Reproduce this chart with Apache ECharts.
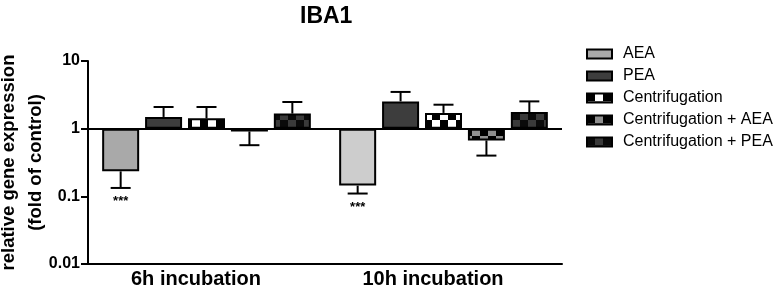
<!DOCTYPE html>
<html>
<head>
<meta charset="utf-8">
<script src="https://cdn.jsdelivr.net/npm/echarts@6/dist/echarts.min.js"></script>
<style>
  html, body { margin: 0; padding: 0; background: #fff; }
  #main { width: 778px; height: 292px; }
</style>
</head>
<body>
<div id="main"></div>
<script>
// values (fold of control, log scale)
var categories = ['6h incubation', '10h incubation'];
var seriesNames = ['AEA', 'PEA', 'Centrifugation', 'Centrifugation + AEA', 'Centrifugation + PEA'];
var aea = [0.234, 0.144];
var aeaErr = [0.133, 0.11];
var pea = [1.49, 2.53];
var peaErr = [2.09, 3.49];
var centr = [1.42, 1.71];
var centrErr = [2.09, 2.26];
var centrAea = [0.91, 0.67];
var centrAeaErr = [0.57, 0.40];
var centrPea = [1.67, 1.76];
var centrPeaErr = [2.48, 2.53];
var aeaStars = ['***', '***'];
var yTicks = [0.01, 0.1, 1, 10];

var FONT = '"Liberation Sans", Arial, sans-serif';
var BAR_W = 37;
var GAP = 0.16;

function checker(a, b, size) {
  var c = document.createElement('canvas');
  c.width = size * 2;
  c.height = size * 2;
  var ctx = c.getContext('2d');
  ctx.fillStyle = a;
  ctx.fillRect(0, 0, size * 2, size * 2);
  ctx.fillStyle = b;
  ctx.fillRect(size, 0, size, size);
  ctx.fillRect(0, size, size, size);
  return { image: c, repeat: 'repeat' };
}

var means = [aea, pea, centr, centrAea, centrPea];
var ends = [aeaErr, peaErr, centrErr, centrAeaErr, centrPeaErr];
var fills = [
  '#a9a9a9',
  '#3d3d3d',
  checker('#000', '#fff', 8),
  checker('#000', '#8f8f8f', 8),
  checker('#0a0a0a', '#3a3a3a', 8)
];

var barSeries = seriesNames.map(function (name, i) {
  var s = {
    name: name,
    type: 'bar',
    barWidth: BAR_W,
    barGap: (GAP * 100) + '%',
    itemStyle: { color: fills[i], borderColor: '#000', borderWidth: 2 },
    data: means[i].slice()
  };
  if (i === 0) {
    // 10h AEA bar is a lighter grey
    s.data = [aea[0], { value: aea[1], itemStyle: { color: '#cdcdcd' } }];
    s.markLine = {
      silent: true,
      symbol: 'none',
      label: { show: false },
      lineStyle: { color: '#000', width: 2, type: 'solid' },
      data: [{ yAxis: 1 }]
    };
  }
  return s;
});

var errData = [];
var errStars = [];
for (var s = 0; s < means.length; s++) {
  for (var c = 0; c < categories.length; c++) {
    errData.push([c, s, means[s][c], ends[s][c]]);
    errStars.push(s === 0 ? aeaStars[c] : '');
  }
}

var chart = echarts.init(document.getElementById('main'));
chart.setOption({
  animation: false,
  textStyle: { fontFamily: FONT },
  title: {
    text: 'IBA1',
    left: 295,
    top: 0,
    textStyle: { fontSize: 23, fontWeight: 'bold', color: '#000', fontFamily: FONT }
  },
  legend: {
    orient: 'vertical',
    left: 586,
    top: 45,
    padding: 0,
    itemWidth: 25,
    itemHeight: 9,
    itemGap: 4,
    icon: 'rect',
    data: seriesNames,
    textStyle: { fontSize: 16, lineHeight: 18, color: '#000', fontFamily: FONT, padding: [0, 0, 0, 6] }
  },
  grid: { left: 88, right: 216, top: 61, bottom: 28, outerBoundsMode: 'none', containLabel: false },
  xAxis: {
    type: 'category',
    data: categories,
    axisLine: { lineStyle: { color: '#000', width: 2 } },
    axisTick: { show: false },
    axisLabel: { fontSize: 20, fontWeight: 'bold', color: '#000', margin: 5, padding: [0, 21, 0, 0], fontFamily: FONT }
  },
  yAxis: {
    type: 'log',
    logBase: 10,
    min: yTicks[0],
    max: yTicks[yTicks.length - 1],
    name: 'relative gene expression\n(fold of control)',
    nameLocation: 'middle',
    nameGap: 39,
    nameMoveOverlap: false,
    nameTextStyle: { fontSize: 18.5, fontWeight: 'bold', color: '#000', lineHeight: 27, fontFamily: FONT },
    axisLine: { show: true, lineStyle: { color: '#000', width: 2 } },
    axisTick: { show: true, length: 7, lineStyle: { color: '#000', width: 2 } },
    splitLine: { show: false },
    minorTick: { show: false },
    axisLabel: {
      fontSize: 16, fontWeight: 'bold', color: '#000', margin: 8, fontFamily: FONT,
      formatter: function (v) { return String(+v.toPrecision(3)); }
    }
  },
  series: barSeries.concat([{
    type: 'custom',
    name: 'err',
    z: 5,
    data: errData,
    renderItem: function (params, api) {
      var cat = api.value(0), sIdx = api.value(1);
      var p0 = api.coord([cat, api.value(2)]);
      var p1 = api.coord([cat, api.value(3)]);
      var x = p0[0] + (sIdx - 2) * BAR_W * (1 + GAP);
      var st = { stroke: '#000', lineWidth: 2 };
      var kids = [
        { type: 'line', shape: { x1: x, y1: p0[1], x2: x, y2: p1[1] }, style: st },
        { type: 'line', shape: { x1: x - 10, y1: p1[1], x2: x + 10, y2: p1[1] }, style: st }
      ];
      var star = errStars[params.dataIndex];
      if (star) {
        kids.push({
          type: 'text',
          x: x,
          y: p1[1] + 7,
          style: { text: star, fill: '#000', font: 'bold 13px ' + FONT, align: 'center', verticalAlign: 'top' }
        });
      }
      return { type: 'group', children: kids };
    }
  }])
});
</script>
</body>
</html>
